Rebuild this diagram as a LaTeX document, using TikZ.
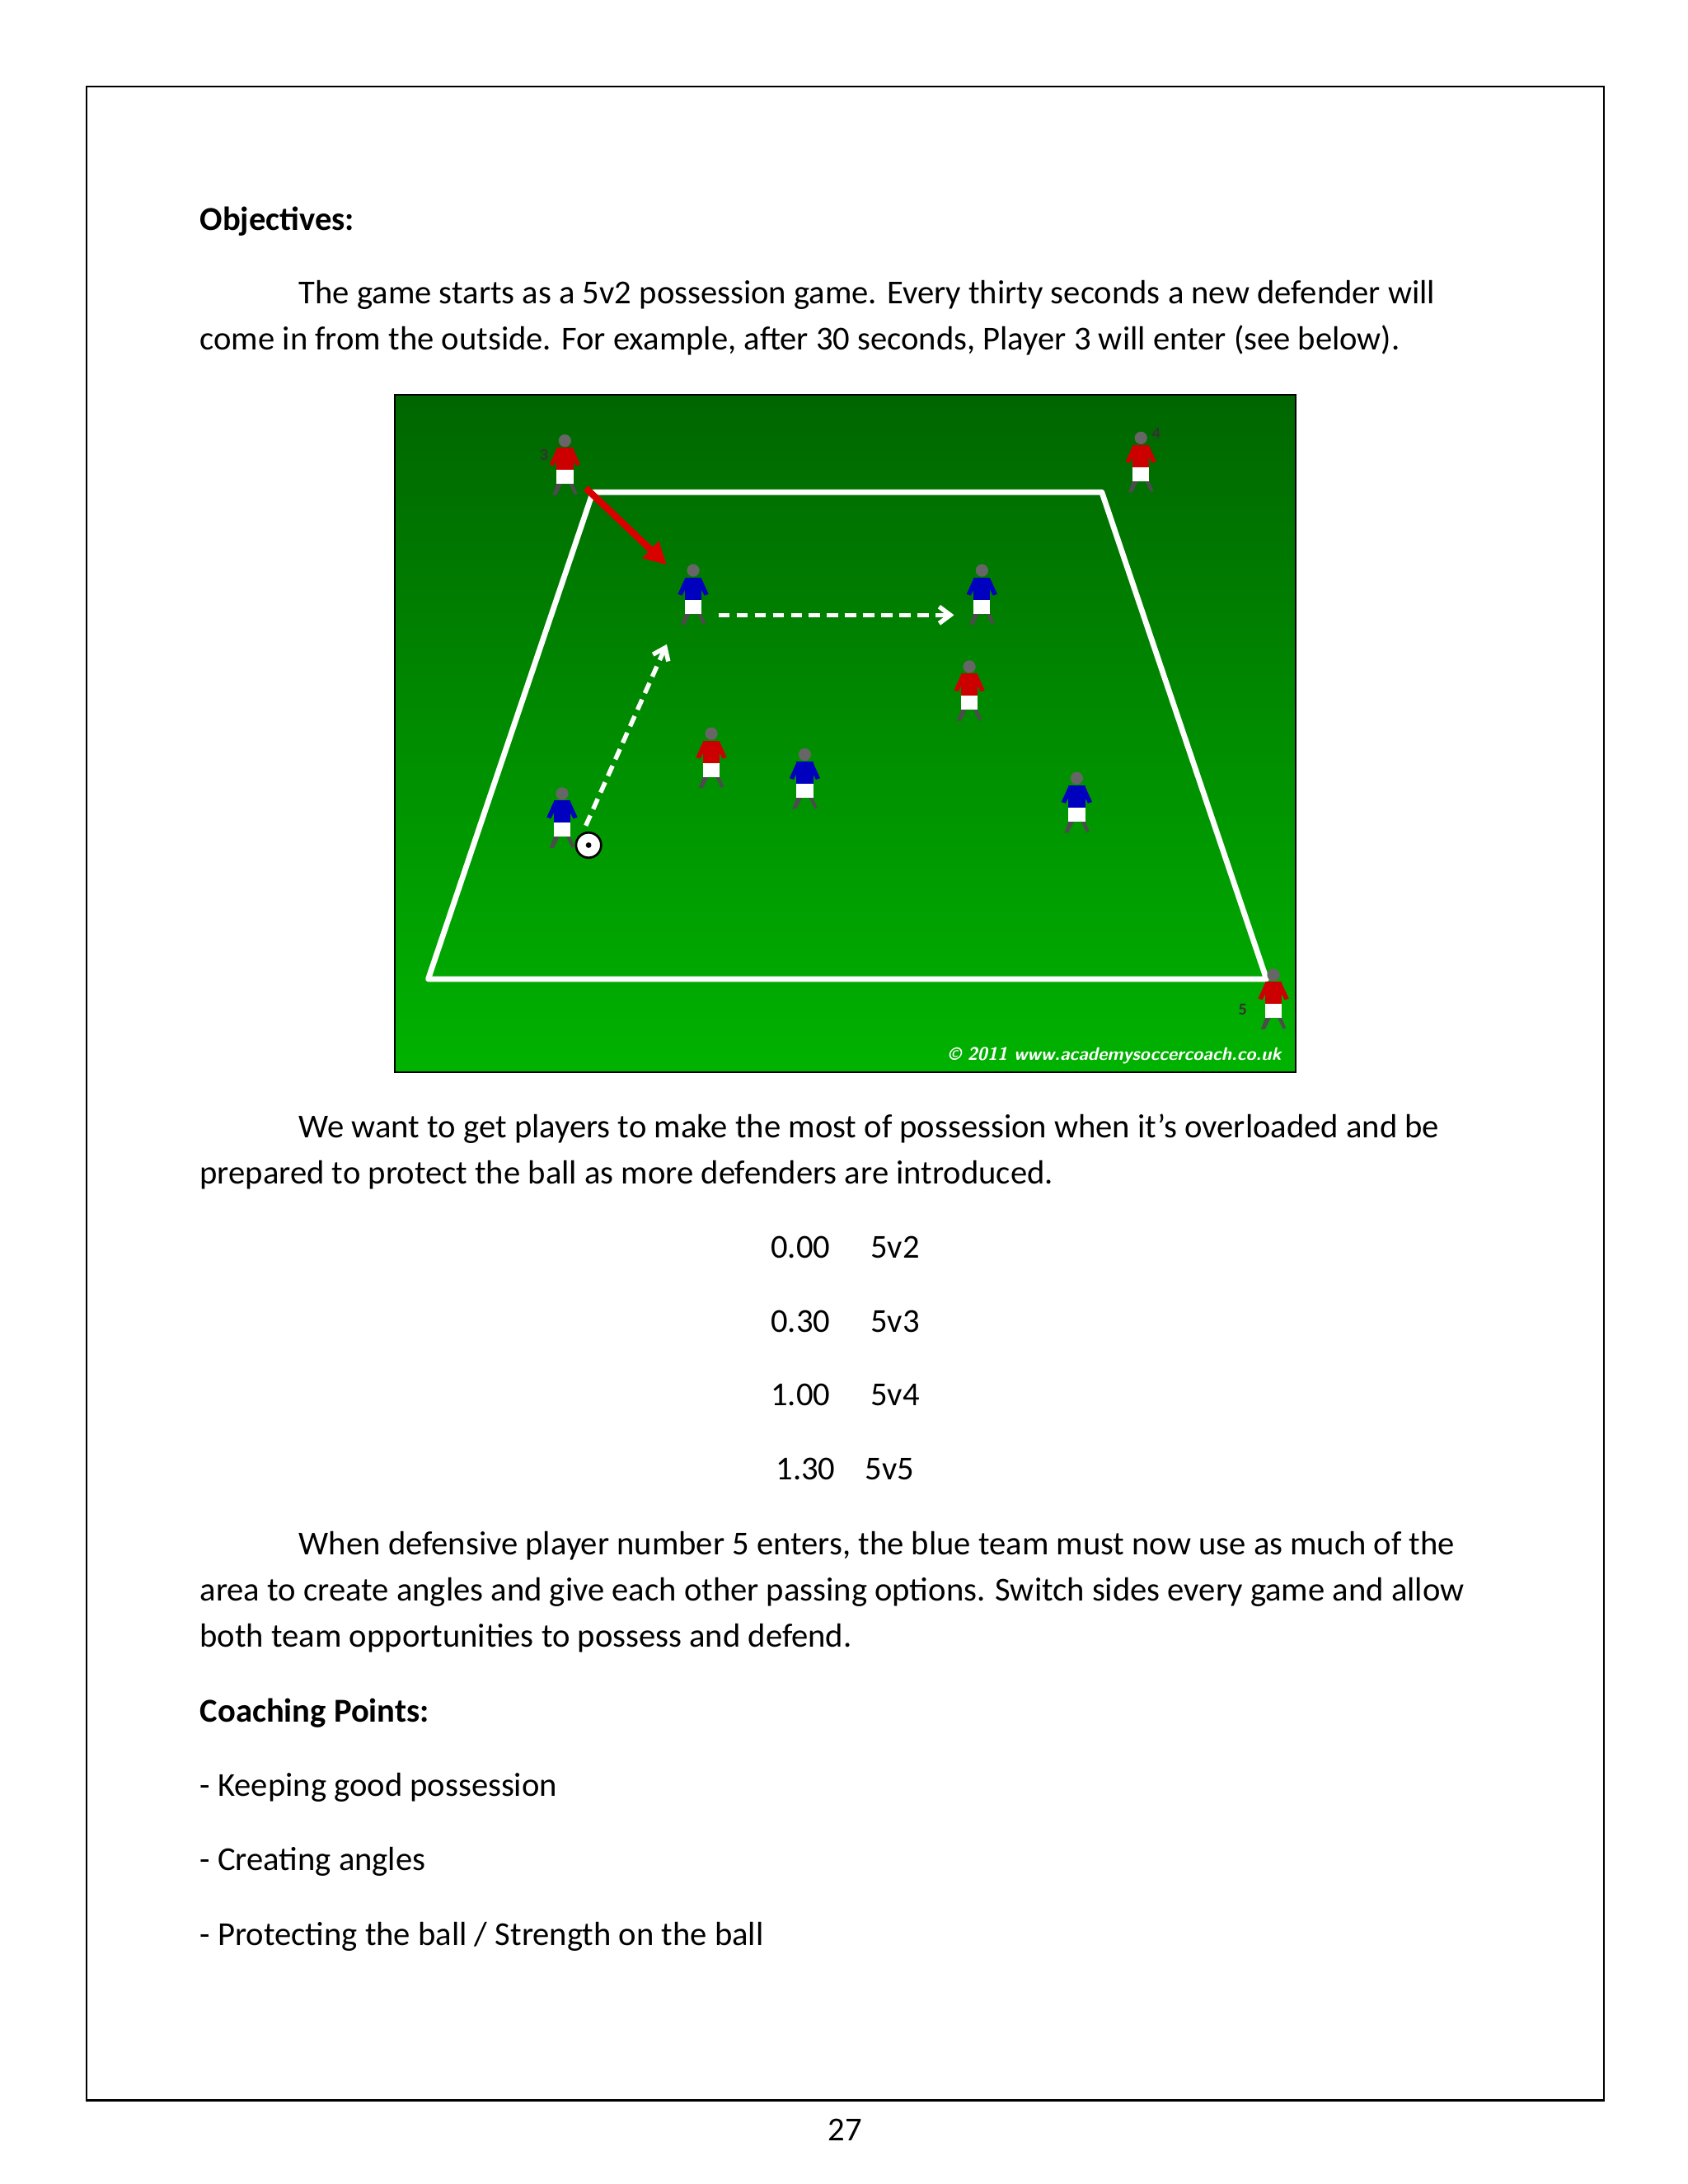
\documentclass[tikz,border=0pt]{standalone}
\usepackage{fontspec}
\setmainfont{Carlito}
\usetikzlibrary{arrows.meta}
\begin{document}
\begin{tikzpicture}[x=0.5pt,y=-0.5pt,
  txt/.style={anchor=base west,inner sep=0pt,font=\fontsize{12}{14}\selectfont},
  ctr/.style={anchor=base,inner sep=0pt,font=\fontsize{12}{14}\selectfont},
  red/.style={fill=red!80!black},
  blu/.style={fill=blue!75!black},
  num/.style={font=\bfseries\fontsize{6}{7}\selectfont,text=black!80,inner sep=0pt},
  dsh/.style={white,line width=1.6pt,dash pattern=on 4pt off 2.5pt,-{Straight Barb[length=4pt,width=6pt]}}]
\useasboundingbox (0,0) rectangle (1210,1566);
\fill[white] (0,0) rectangle (1210,1566);
\draw[line width=0.7pt] (62,62) rectangle (1150,1506);
\node[txt,font=\bfseries\fontsize{12}{14}\selectfont] (t0) at (143,165) {Objectives:};
\node[txt] (t1) at (214,218) {The game starts as a 5v2 possession game. Every thirty seconds a new defender will};
\node[txt] (t2) at (143,251) {come in from the outside. For example, after 30 seconds, Player 3 will enter (see below).};
% image
\shade[top color=green!40!black,bottom color=green!70!black] (283,283) rectangle (929,769);
\draw[black,line width=0.5pt] (283,283) rectangle (929,769);
\draw[white,line width=2pt,line join=round] (425,353) -- (790,353) -- (908,702) -- (307,702) -- cycle;
\newcommand{\plr}[3]{%
  \fill[black!70] (#1-6,#2+22) -- (#1-9,#2+30) -- (#1-6,#2+30) -- (#1-2,#2+22) -- cycle;
  \fill[black!70] (#1+3,#2+22) -- (#1+7,#2+30) -- (#1+9,#2+29) -- (#1+6,#2+22) -- cycle;
  \fill[white] (#1-6,#2+12) rectangle (#1+6,#2+22);
  \fill[#3] (#1-6,#2-4) rectangle (#1+6,#2+12);
  \fill[#3] (#1-6,#2-3) -- (#1-11,#2+8) -- (#1-8,#2+9) -- (#1-4,#2+1) -- cycle;
  \fill[#3] (#1+6,#2-3) -- (#1+11,#2+8) -- (#1+8,#2+9) -- (#1+4,#2+1) -- cycle;
  \fill[black!60] (#1,#2-9) circle (4.5);}
\plr{405}{325}{red}\node[num] (n3) at (390,326) {3};
\plr{818}{323}{red}\node[num] (n4) at (829,311) {4};
\plr{695}{487}{red}
\plr{510}{535}{red}
\plr{913}{708}{red}\node[num] (n5) at (891,724) {5};
\plr{497}{418}{blu}
\plr{704}{418}{blu}
\plr{577}{550}{blu}
\plr{772}{567}{blu}
\plr{403}{578}{blu}
\node[circle,fill=white,draw=black,line width=0.8pt,minimum size=9pt,inner sep=0pt] (ball) at (422,606) {};
\fill[black] (ball.center) circle (2);
\coordinate (ra) at (420,350); \coordinate (rb) at (478,405);
\draw[red!85!black,line width=2.4pt,-{Triangle[length=8pt,width=8pt]}] (ra) -- (rb);
\coordinate (da) at (420,592); \coordinate (db) at (478,462);
\draw[dsh] (da) -- (db);
\coordinate (dc) at (515,441); \coordinate (dd) at (684,441);
\draw[dsh] (dc) -- (dd);
\node[anchor=base east,inner sep=0pt,text=white,font=\bfseries\itshape\sffamily\fontsize{6.5}{7}\selectfont] (cp) at (919,760) {\textcopyright{} 2011 www.academysoccercoach.co.uk};
% text after
\node[txt] (t3) at (214,816) {We want to get players to make the most of possession when it’s overloaded and be};
\node[txt] (t4) at (143,849) {prepared to protect the ball as more defenders are introduced.};
\node[ctr] (r1) at (606,902) {0.00\hspace{1.2em}5v2};
\node[ctr] (r2) at (606,955) {0.30\hspace{1.2em}5v3};
\node[ctr] (r3) at (606,1008) {1.00\hspace{1.2em}5v4};
\node[ctr] (r4) at (606,1061) {1.30\hspace{0.9em}5v5};
\node[txt] (t5) at (214,1115) {When defensive player number 5 enters, the blue team must now use as much of the};
\node[txt] (t6) at (143,1148) {area to create angles and give each other passing options. Switch sides every game and allow};
\node[txt] (t7) at (143,1181) {both team opportunities to possess and defend.};
\node[txt,font=\bfseries\fontsize{12}{14}\selectfont] (t8) at (143,1235) {Coaching Points:};
\node[txt] (t9) at (143,1288) {- Keeping good possession};
\node[txt] (t10) at (143,1341) {- Creating angles};
\node[txt] (t11) at (143,1395) {- Protecting the ball / Strength on the ball};
\node[ctr] (pg) at (606,1535) {27};
\end{tikzpicture}
\end{document}
